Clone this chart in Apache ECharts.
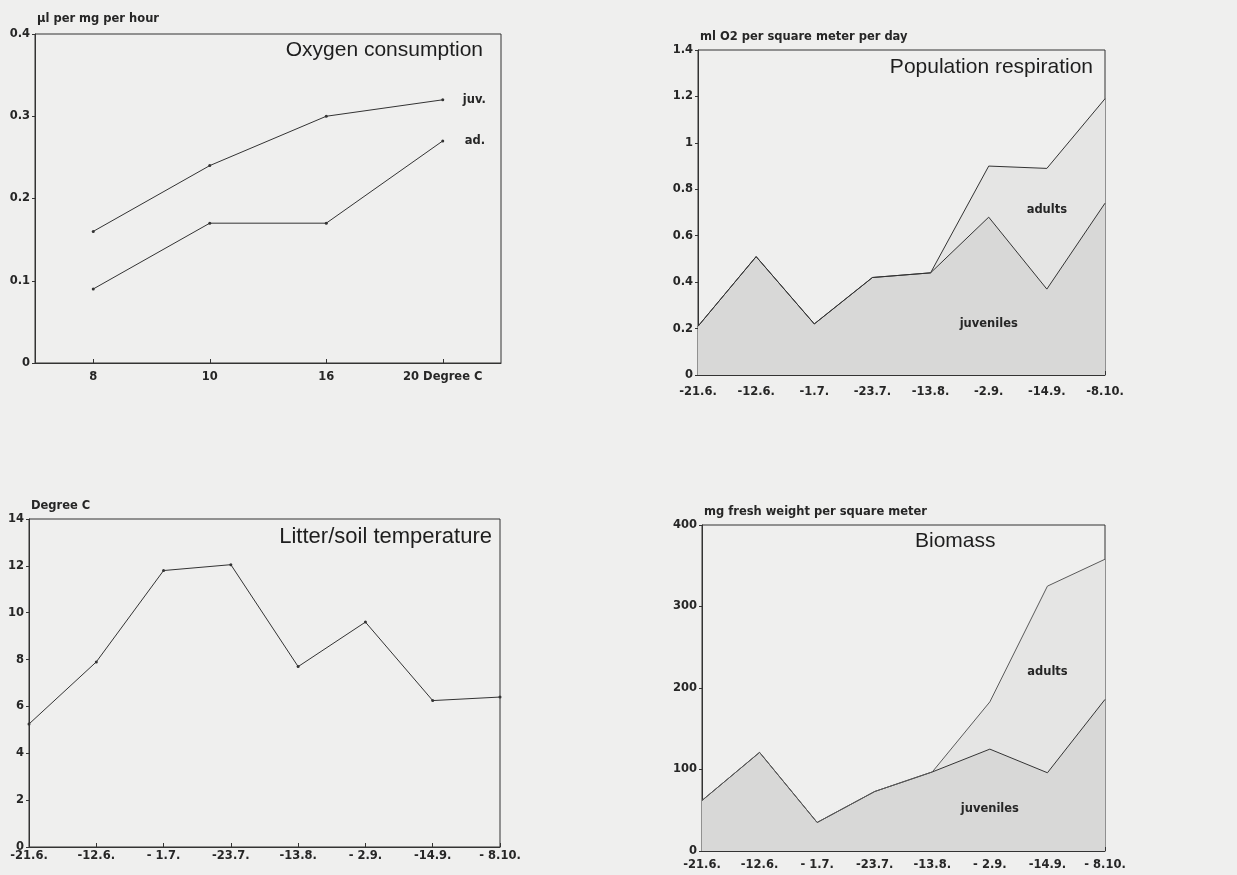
<!DOCTYPE html>
<html>
<head>
<meta charset="utf-8">
<script src="https://cdn.jsdelivr.net/npm/echarts@6/dist/echarts.min.js"></script>
<style>
html,body{margin:0;padding:0;background:#efefee;}
#c{width:1237px;height:875px;}
</style>
</head>
<body>
<div id="c"></div>
<script>
// ---- data ----
const oxyTemps = ['8', '10', '16', '20 Degree C'];
const oxyJuv = [0.16, 0.24, 0.30, 0.32];
const oxyAd = [0.09, 0.17, 0.17, 0.27];

const datesTop = ['-21.6.', '-12.6.', '-1.7.', '-23.7.', '-13.8.', '-2.9.', '-14.9.', '-8.10.'];
const datesBottom = ['-21.6.', '-12.6.', '- 1.7.', '-23.7.', '-13.8.', '- 2.9.', '-14.9.', '- 8.10.'];

const respJuveniles = [0.21, 0.51, 0.22, 0.42, 0.44, 0.68, 0.37, 0.74];
const respAdults = [0, 0, 0, 0, 0, 0.22, 0.52, 0.45];

const soilTemp = [5.25, 7.9, 11.8, 12.05, 7.7, 9.6, 6.25, 6.4];

const bioJuveniles = [62, 121, 35, 73, 97, 125, 96, 186];
const bioAdults = [0, 0, 0, 0, 0, 58, 229, 172];

// ---- styles ----
const FONT = 'DejaVu Sans';
const TXT = '#262626';
const LINE = '#333333';
const small = {fontFamily: FONT, fontSize: 11.5, fontWeight: 'bold', color: TXT};
const titleStyle = {fontFamily: 'Liberation Sans', fontSize: 21, fontWeight: 'normal', color: '#1e1e1e'};

function xAx(gi, data, gap, margin) {
  return {
    type: 'category', gridIndex: gi, data: data, boundaryGap: gap,
    axisLine: {lineStyle: {color: LINE, width: 1}},
    axisTick: {show: true, inside: true, length: 4, alignWithLabel: true, lineStyle: {color: LINE}},
    axisLabel: Object.assign({margin: margin, interval: 0}, small),
    splitLine: {show: false}
  };
}
function yAx(gi, max, interval, name, gap) {
  return {
    type: 'value', gridIndex: gi, min: 0, max: max, interval: interval,
    name: name, nameLocation: 'end', nameGap: gap,
    nameTextStyle: Object.assign({align: 'left', verticalAlign: 'bottom', padding: [0, 0, 0, 2]}, small),
    axisLine: {show: true, lineStyle: {color: LINE, width: 1}},
    axisTick: {show: true, inside: false, length: 3, lineStyle: {color: LINE}},
    axisLabel: Object.assign({margin: 5}, small),
    splitLine: {show: false}
  };
}
const gridBase = {show: true, borderColor: LINE, borderWidth: 1, backgroundColor: 'transparent', containLabel: false};

const chart = echarts.init(document.getElementById('c'), null, {renderer: 'canvas'});
chart.setOption({
  backgroundColor: '#efefee',
  animation: false,
  title: [
    {text: 'Oxygen consumption', right: 754, top: 40, padding: 0, textStyle: titleStyle},
    {text: 'Population respiration', right: 144, top: 57, padding: 0, textStyle: titleStyle},
    {text: 'Litter/soil temperature', right: 745, top: 526, padding: 0, textStyle: Object.assign({}, titleStyle, {fontSize: 22})},
    {text: 'Biomass', left: 915, top: 531, padding: 0, textStyle: titleStyle}
  ],
  grid: [
    Object.assign({left: 35, top: 34, right: 736, bottom: 512}, gridBase),
    Object.assign({left: 698, top: 50, right: 132, bottom: 500}, gridBase),
    Object.assign({left: 29, top: 519, right: 737, bottom: 28}, gridBase),
    Object.assign({left: 702, top: 525, right: 132, bottom: 24}, gridBase)
  ],
  xAxis: [
    xAx(0, oxyTemps, true, 8),
    xAx(1, datesTop, false, 11),
    xAx(2, datesBottom, false, 3),
    xAx(3, datesBottom, false, 8)
  ],
  yAxis: [
    yAx(0, 0.4, 0.1, 'µl per mg per hour', 9),
    yAx(1, 1.4, 0.2, 'ml O2 per square meter per day', 7),
    yAx(2, 14, 2, 'Degree C', 7),
    yAx(3, 400, 100, 'mg fresh weight per square meter', 7)
  ],
  series: [
    {
      type: 'line', xAxisIndex: 0, yAxisIndex: 0, data: oxyJuv,
      symbol: 'circle', symbolSize: 3, itemStyle: {color: LINE},
      lineStyle: {color: LINE, width: 1},
      endLabel: Object.assign({show: true, formatter: 'juv.', distance: 20}, small)
    },
    {
      type: 'line', xAxisIndex: 0, yAxisIndex: 0, data: oxyAd,
      symbol: 'circle', symbolSize: 3, itemStyle: {color: LINE},
      lineStyle: {color: LINE, width: 1},
      endLabel: Object.assign({show: true, formatter: 'ad.', distance: 22}, small)
    },
    {
      name: 'juveniles', type: 'line', xAxisIndex: 1, yAxisIndex: 1, data: respJuveniles,
      stack: 'resp', symbol: 'none',
      lineStyle: {color: LINE, width: 1},
      areaStyle: {color: '#d8d8d7', opacity: 1},
      markPoint: {
        symbol: 'circle', symbolSize: 0, silent: true,
        label: Object.assign({show: true, position: 'inside', formatter: 'juveniles'}, small),
        data: [{coord: [4.5, 0.22]}]
      }
    },
    {
      name: 'adults', type: 'line', xAxisIndex: 1, yAxisIndex: 1, data: respAdults,
      stack: 'resp', symbol: 'none',
      lineStyle: {color: LINE, width: 1},
      areaStyle: {color: '#e5e5e4', opacity: 1},
      markPoint: {
        symbol: 'circle', symbolSize: 0, silent: true,
        label: Object.assign({show: true, position: 'inside', formatter: 'adults'}, small),
        data: [{coord: [6, 0.71]}]
      }
    },
    {
      type: 'line', xAxisIndex: 2, yAxisIndex: 2, data: soilTemp,
      symbol: 'circle', symbolSize: 3, itemStyle: {color: LINE},
      lineStyle: {color: LINE, width: 1}
    },
    {
      name: 'juveniles', type: 'line', xAxisIndex: 3, yAxisIndex: 3, data: bioJuveniles,
      stack: 'bio', symbol: 'none',
      lineStyle: {color: LINE, width: 1},
      areaStyle: {color: '#d8d8d7', opacity: 1},
      markPoint: {
        symbol: 'circle', symbolSize: 0, silent: true,
        label: Object.assign({show: true, position: 'inside', formatter: 'juveniles'}, small),
        data: [{coord: [5, 52]}]
      }
    },
    {
      name: 'adults', type: 'line', xAxisIndex: 3, yAxisIndex: 3, data: bioAdults,
      stack: 'bio', symbol: 'none',
      lineStyle: {color: '#5a5a5a', width: 1},
      areaStyle: {color: '#e5e5e4', opacity: 1},
      markPoint: {
        symbol: 'circle', symbolSize: 0, silent: true,
        label: Object.assign({show: true, position: 'inside', formatter: 'adults'}, small),
        data: [{coord: [6.1, 220]}]
      }
    }
  ]
});
</script>
</body>
</html>
